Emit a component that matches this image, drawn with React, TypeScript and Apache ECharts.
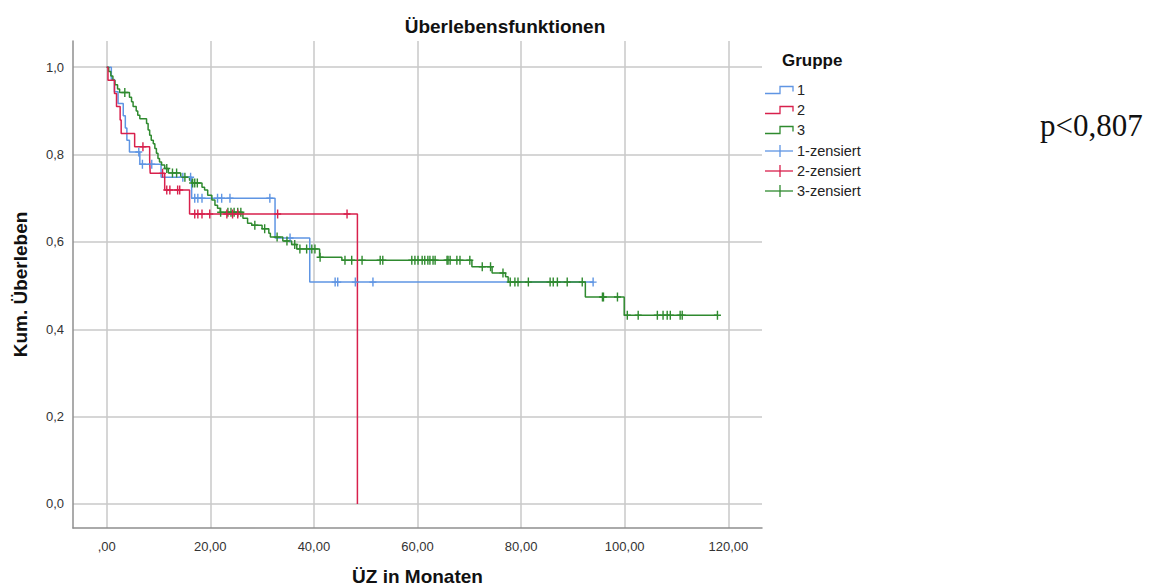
import React, { useEffect, useRef } from 'react';
import * as echarts from 'echarts';

// Axis ticks and their printed labels (German decimal comma)
const xTicks = [0, 20, 40, 60, 80, 100, 120];
const xTickLabels = [',00', '20,00', '40,00', '60,00', '80,00', '100,00', '120,00'];
const yTicks = [0, 0.2, 0.4, 0.6, 0.8, 1.0];
const yTickLabels = ['0,0', '0,2', '0,4', '0,6', '0,8', '1,0'];

const groupNames = ['1', '2', '3'];
const censorNames = ['1-zensiert', '2-zensiert', '3-zensiert'];
const groupColors = ['#5f95e3', '#d8204c', '#2f8a2f'];

// Kaplan-Meier step points: time (months) and survival after that time
const group1Times = [0, 0.9, 1.5, 2.2, 3.2, 3.6, 3.9, 4.4, 6.4, 10.5, 16.4, 32.5, 39.2, 93.9];
const group1Surv = [1.0, 0.972, 0.944, 0.917, 0.889, 0.861, 0.833, 0.806, 0.778, 0.748, 0.7, 0.609, 0.508, 0.508];
const group1Censored = [6.2, 6.9, 8.7, 14.7, 16.2, 17.0, 17.6, 18.4, 21.4, 22.2, 23.8, 31.5, 35.4, 44.1, 44.6, 48.0, 51.4, 93.9];

const group2Times = [0, 0.25, 1.5, 1.9, 2.6, 2.8, 5.4, 8.3, 8.4, 11.2, 16.0, 48.4];
const group2Surv = [1.0, 0.97, 0.94, 0.91, 0.879, 0.848, 0.818, 0.788, 0.757, 0.719, 0.664, 0];
const group2Censored = [7.0, 10.8, 11.6, 12.2, 13.7, 14.1, 17.0, 17.6, 18.4, 19.9, 23.2, 24.3, 25.3, 33.0, 46.4];

const group3Times = [0, 0.4, 0.8, 1.2, 1.6, 2.1, 2.5, 4.4, 4.8, 5.1, 5.7, 6.0, 6.4, 7.7, 8.0, 8.3, 8.6, 9.0, 9.3, 9.6, 9.9, 10.2, 10.6, 11.2, 11.9, 14.3, 16.0, 16.4, 18.4, 18.9, 19.5, 20.3, 20.9, 21.4, 21.9, 26.3, 27.2, 28.0, 30.0, 31.3, 31.6, 34.0, 35.7, 36.7, 41.1, 45.4, 70.5, 74.4, 77.0, 77.5, 92.4, 99.9, 117.9];
const group3Surv = [1.0, 0.99, 0.98, 0.97, 0.96, 0.95, 0.942, 0.931, 0.921, 0.91, 0.9, 0.89, 0.882, 0.871, 0.856, 0.844, 0.833, 0.825, 0.814, 0.803, 0.791, 0.783, 0.776, 0.768, 0.758, 0.748, 0.741, 0.735, 0.725, 0.719, 0.707, 0.696, 0.684, 0.677, 0.668, 0.654, 0.643, 0.638, 0.63, 0.62, 0.611, 0.602, 0.594, 0.584, 0.565, 0.558, 0.543, 0.529, 0.52, 0.508, 0.474, 0.432, 0.432];
const group3Censored = [3.5, 11.6, 12.7, 13.5, 15.1, 16.6, 17.0, 17.5, 22.0, 23.4, 24.0, 24.6, 25.3, 25.9, 28.6, 30.5, 32.9, 34.8, 36.3, 37.3, 38.6, 39.6, 40.2, 41.2, 46.0, 47.3, 49.3, 52.8, 53.3, 58.9, 59.5, 60.1, 60.9, 61.4, 62.0, 62.4, 63.0, 63.4, 65.7, 65.9, 66.3, 67.6, 68.2, 70.1, 72.5, 74.1, 76.5, 77.9, 78.8, 79.4, 81.4, 85.6, 86.2, 87.0, 88.9, 91.8, 95.7, 95.9, 98.6, 100.5, 102.6, 106.3, 107.4, 108.2, 108.8, 110.7, 111.1, 117.9];

const pValueText = 'p<0,807';

const groups = [
  { times: group1Times, surv: group1Surv, censored: group1Censored },
  { times: group2Times, surv: group2Surv, censored: group2Censored },
  { times: group3Times, surv: group3Surv, censored: group3Censored },
];

// survival value of a step function at time t
function survivalAt(times: number[], surv: number[], t: number): number {
  let s = surv[0];
  for (let i = 0; i < times.length; i++) {
    if (times[i] <= t) s = surv[i];
    else break;
  }
  return s;
}

function tickLabel(ticks: number[], labels: string[], v: number): string {
  const i = ticks.findIndex((t) => Math.abs(t - v) < 1e-6);
  return i >= 0 ? labels[i] : '';
}

const SANS = 'Arial, "Liberation Sans", sans-serif';
const CENSOR_SYMBOL = 'path://M2.8,0h1.4v9h-1.4z M0,3.8h7v1.4h-7z';

export default function App() {
  const ref = useRef<HTMLDivElement>(null);

  useEffect(() => {
    if (!ref.current) return;
    const chart = echarts.init(ref.current, undefined, { renderer: 'svg' });

    // draw order: group 1, group 3, group 2, then censor marks
    const lineOrder = [0, 2, 1];
    const lineSeries = lineOrder.map((g, k) => ({
      name: groupNames[g],
      type: 'line',
      step: 'end',
      data: groups[g].times.map((t, i) => [t, groups[g].surv[i]]),
      showSymbol: false,
      symbol: 'none',
      lineStyle: { color: groupColors[g], width: 1.5 },
      itemStyle: { color: groupColors[g] },
      z: 2 + k,
      silent: true,
    }));
    const censorSeries = lineOrder.map((g, k) => ({
      name: censorNames[g],
      type: 'scatter',
      data: groups[g].censored.map((t) => [t, survivalAt(groups[g].times, groups[g].surv, t)]),
      symbol: CENSOR_SYMBOL,
      symbolSize: [7, 9],
      itemStyle: { color: groupColors[g], opacity: 1 },
      z: 6 + k,
      silent: true,
    }));

    // legend drawn as graphic elements (step icon and censor icon)
    const legendX0 = 765;
    const legendX1 = 780;
    const legendX2 = 793;
    const rowY = [90, 110, 130, 151, 171, 191];
    const legendItems: any[] = [
      {
        type: 'text',
        x: 782,
        y: 60,
        style: { text: 'Gruppe', font: `bold 17px ${SANS}`, fill: '#111', align: 'left', verticalAlign: 'middle' },
      },
    ];
    groupNames.forEach((n, g) => {
      const y = rowY[g];
      legendItems.push({
        type: 'polyline',
        shape: { points: [[legendX0, y + 3.5], [legendX1, y + 3.5], [legendX1, y - 3.5], [legendX2, y - 3.5], [legendX2, y + 1.5]] },
        style: { stroke: groupColors[g], fill: 'none', lineWidth: 1.3 },
      });
      legendItems.push({
        type: 'text',
        x: 797,
        y,
        style: { text: n, font: `14.5px ${SANS}`, fill: '#222', align: 'left', verticalAlign: 'middle' },
      });
    });
    censorNames.forEach((n, g) => {
      const y = rowY[3 + g];
      legendItems.push({
        type: 'line',
        shape: { x1: legendX0, y1: y, x2: legendX2, y2: y },
        style: { stroke: groupColors[g], lineWidth: 1.3 },
      });
      legendItems.push({
        type: 'line',
        shape: { x1: legendX1, y1: y - 6, x2: legendX1, y2: y + 6 },
        style: { stroke: groupColors[g], lineWidth: 1.3 },
      });
      legendItems.push({
        type: 'text',
        x: 797,
        y,
        style: { text: n, font: `14.5px ${SANS}`, fill: '#222', align: 'left', verticalAlign: 'middle' },
      });
    });

    chart.setOption({
      animation: false,
      backgroundColor: '#ffffff',
      textStyle: { fontFamily: SANS },
      grid: { left: 73, right: 389, top: 41, bottom: 59, containLabel: false, outerBoundsMode: 'none' },
      xAxis: {
        type: 'value',
        min: -6.5,
        max: 126.5,
        name: 'ÜZ in Monaten',
        nameLocation: 'middle',
        nameGap: 39,
        nameTextStyle: { fontSize: 19, fontWeight: 'bold', color: '#111', fontFamily: SANS },
        axisLine: { show: true, onZero: false, lineStyle: { color: '#8f8f8f', width: 1.5 } },
        axisTick: { show: false, customValues: xTicks },
        axisLabel: {
          customValues: xTicks,
          margin: 12,
          fontSize: 13,
          color: '#333',
          fontFamily: SANS,
          formatter: (v: number) => tickLabel(xTicks, xTickLabels, v),
        },
        splitLine: { show: true, lineStyle: { color: '#c8c8c8', width: 1.5 } },
      },
      yAxis: {
        type: 'value',
        min: -0.055,
        max: 1.06,
        name: 'Kum. Überleben',
        nameLocation: 'middle',
        nameGap: 43,
        nameTextStyle: { fontSize: 19, fontWeight: 'bold', color: '#111', fontFamily: SANS },
        axisLine: { show: true, onZero: false, lineStyle: { color: '#8f8f8f', width: 1.5 } },
        axisTick: { show: false, customValues: yTicks },
        axisLabel: {
          customValues: yTicks,
          margin: 9,
          fontSize: 13,
          color: '#333',
          fontFamily: SANS,
          formatter: (v: number) => tickLabel(yTicks, yTickLabels, v),
        },
        splitLine: { show: true, lineStyle: { color: '#c8c8c8', width: 1.5 } },
      },
      graphic: [
        {
          type: 'text',
          x: 505,
          y: 26,
          style: { text: 'Überlebensfunktionen', font: `bold 19px ${SANS}`, fill: '#111', align: 'center', verticalAlign: 'middle' },
        },
        {
          type: 'text',
          x: 1040,
          y: 125,
          style: { text: pValueText, font: '31px "Liberation Serif", "Times New Roman", serif', fill: '#111', align: 'left', verticalAlign: 'middle' },
        },
        ...legendItems,
      ],
      series: [...lineSeries, ...censorSeries],
    });

    return () => {
      chart.dispose();
    };
  }, []);

  return (
    <div
      ref={ref}
      style={{ position: 'fixed', left: 0, top: 0, width: 1151, height: 587, background: '#fff' }}
    />
  );
}
